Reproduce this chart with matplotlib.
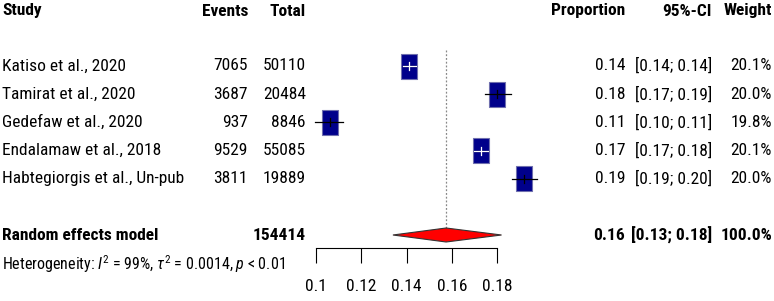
import matplotlib
matplotlib.use("Agg")
import matplotlib.pyplot as plt
from matplotlib.patches import Rectangle, Polygon
from matplotlib import font_manager

# narrow font like the R default on Windows (Arial Narrow look)
names = {f.name for f in font_manager.fontManager.ttflist}
FONT = "Liberation Sans"
for cand in ["Liberation Sans Narrow", "Arimo Narrow", "Roboto Condensed", "Archivo Narrow"]:
    if cand in names:
        FONT = cand
        break
NARROW = FONT != "Liberation Sans"
FS = 12.5 if NARROW else 11.5

plt.rcParams["font.family"] = [FONT, "DejaVu Sans"]
plt.rcParams["mathtext.fontset"] = "custom"
plt.rcParams["mathtext.rm"] = FONT
plt.rcParams["mathtext.it"] = FONT + ":italic"

# data
studies = ["Katiso et al., 2020", "Tamirat et al., 2020", "Gedefaw et al., 2020",
           "Endalamaw et al., 2018", "Habtegiorgis et al., Un-pub"]
events = [7065, 3687, 937, 9529, 3811]
totals = [50110, 20484, 8846, 55085, 19889]
props = [0.141, 0.180, 0.106, 0.173, 0.192]
ci_lo = [0.1385, 0.1748, 0.0995, 0.1700, 0.1866]
ci_hi = [0.1440, 0.1860, 0.1120, 0.1760, 0.1975]
weights = [20.1, 20.0, 19.8, 20.1, 20.0]
prop_txt = ["0.14", "0.18", "0.11", "0.17", "0.19"]
ci_txt = ["[0.14; 0.14]", "[0.17; 0.19]", "[0.10; 0.11]", "[0.17; 0.18]", "[0.19; 0.20]"]

pooled = 0.1575
pooled_lo = 0.134
pooled_hi = 0.182
pooled_total = 154414
pooled_txt = ("0.16", "[0.13; 0.18]", "100.0%")

xticks = [0.1, 0.12, 0.14, 0.16, 0.18]
xtick_labels = ["0.1", "0.12", "0.14", "0.16", "0.18"]

W, H = 774, 301
fig = plt.figure(figsize=(W / 100, H / 100), dpi=100)

# forest axes: 0.1 -> px 316, 0.18 -> px 497, bottom spine at px 248
AX_BOTTOM = 248
ax = fig.add_axes([316 / W, (H - AX_BOTTOM) / H, (497 - 316) / W, AX_BOTTOM / H])
ax.set_xlim(0.1, 0.18)
ax.set_ylim(AX_BOTTOM, 0)
ax.patch.set_alpha(0)
for s in ["top", "left", "right"]:
    ax.spines[s].set_visible(False)
ax.spines["bottom"].set_linewidth(0.8)
ax.set_yticks([])
ax.set_xticks(xticks)
ax.set_xticklabels(xtick_labels, fontsize=FS)
ax.tick_params(axis="x", direction="out", length=11, width=0.8, pad=11)

px_per_unit = (497 - 316) / 0.08
row_y = [66 + 28.2 * i for i in range(len(studies))]
pooled_y = 235

# reference line at pooled estimate
ax.plot([pooled, pooled], [50, pooled_y - 7], color="#888888", lw=0.9,
        ls=(0, (1.5, 1.5)), clip_on=False)

wmax = max(weights)
for i in range(len(studies)):
    y = row_y[i]
    sc = (weights[i] / wmax) ** 0.5
    w = 16 * sc / px_per_unit
    h = 25 * sc
    ax.add_patch(Rectangle((props[i] - w / 2, y - h / 2), w, h, facecolor="#00008B",
                           edgecolor="#6f6fae", lw=0.8, clip_on=False, zorder=2))
    ax.plot([ci_lo[i], ci_hi[i]], [y, y], color="black", lw=0.9, clip_on=False, zorder=3)
    # white segment where the CI lies inside the box
    if ci_lo[i] >= props[i] - w / 2 and ci_hi[i] <= props[i] + w / 2:
        ax.plot([ci_lo[i], ci_hi[i]], [y, y], color="white", lw=0.9, clip_on=False, zorder=4)
        ax.plot([props[i], props[i]], [y - 4, y + 4], color="white", lw=0.9, clip_on=False, zorder=4)
    else:
        ax.plot([props[i], props[i]], [y - 4, y + 4], color="black", lw=0.9, clip_on=False, zorder=4)

ax.add_patch(Polygon([[pooled_lo, pooled_y], [pooled, pooled_y - 7],
                      [pooled_hi, pooled_y], [pooled, pooled_y + 7]],
                     closed=True, facecolor="#ff0000", edgecolor="#333333", lw=0.8,
                     clip_on=False, zorder=3))


def put(px, py, s, ha="left", bold=False, size=FS):
    fig.text(px / W, 1 - py / H, s, ha=ha, va="center", fontsize=size,
             fontweight="bold" if bold else "normal")


# header
hy = 11
put(2, hy, "Study", bold=True)
put(248, hy, "Events", ha="right", bold=True)
put(306, hy, "Total", ha="right", bold=True)
put(625, hy, "Proportion", ha="right", bold=True)
put(712, hy, "95%-CI", ha="right", bold=True)
put(772, hy, "Weight", ha="right", bold=True)

for i in range(len(studies)):
    y = row_y[i]
    put(2, y, studies[i])
    put(248, y, str(events[i]), ha="right")
    put(306, y, str(totals[i]), ha="right")
    put(625, y, prop_txt[i], ha="right")
    put(712, y, ci_txt[i], ha="right")
    put(772, y, f"{weights[i]:.1f}%", ha="right")

put(2, pooled_y, "Random effects model", bold=True)
put(306, pooled_y, str(pooled_total), ha="right", bold=True)
put(625, pooled_y, pooled_txt[0], ha="right", bold=True)
put(712, pooled_y, pooled_txt[1], ha="right", bold=True)
put(772, pooled_y, pooled_txt[2], ha="right", bold=True)

put(2, 264, r"Heterogeneity: $\mathit{I}^2$ = 99%, $\tau^2$ = 0.0014, $\mathit{p}$ < 0.01",
    size=FS - 1)

fig.savefig("out.png", dpi=100)
